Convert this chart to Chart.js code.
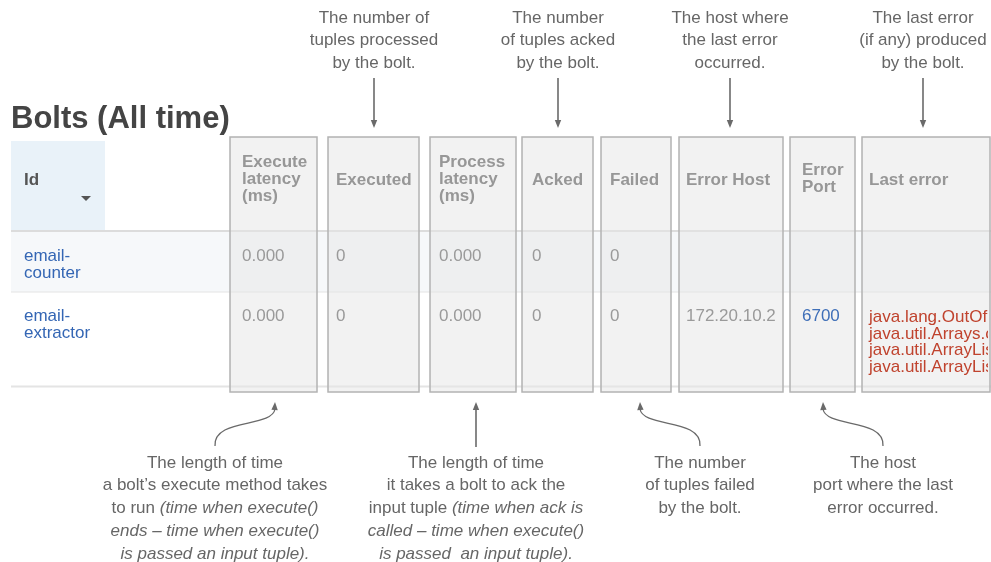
<!DOCTYPE html>
<html>
<head>
<meta charset="utf-8">
<script src="https://cdn.jsdelivr.net/npm/chart.js@4.4.1/dist/chart.umd.min.js"></script>
<style>
  html, body { margin: 0; padding: 0; background: #fff; }
  canvas { display: block; }
</style>
</head>
<body>
<canvas id="chart" width="991" height="562"></canvas>
<script>
// table content
const title = 'Bolts (All time)';
const idHeader = 'Id';
const headers = [['Execute', 'latency', '(ms)'], ['Executed'], ['Process', 'latency', '(ms)'], ['Acked'], ['Failed'], ['Error Host'], ['Error', 'Port'], ['Last error']];
const boltIds = [['email-', 'counter'], ['email-', 'extractor']];
const executeLatency = ['0.000', '0.000'];
const executed = ['0', '0'];
const processLatency = ['0.000', '0.000'];
const acked = ['0', '0'];
const failed = ['0', '0'];
const errorHost = ['', '172.20.10.2'];
const errorPort = ['', '6700'];
const lastError = [[], [
  'java.lang.OutOfMemoryError: Java heap space',
  'java.util.Arrays.copyOf(Arrays.java:2245)',
  'java.util.ArrayList.grow(ArrayList.java:242)',
  'java.util.ArrayList.ensureCapacityInternal(ArrayList.java:216)'
]];

// callouts: [[text, italic], ...] per line
const topNotes = [
  [[['The number of', false]], [['tuples processed', false]], [['by the bolt.', false]]],
  [[['The number', false]], [['of tuples acked', false]], [['by the bolt.', false]]],
  [[['The host where', false]], [['the last error', false]], [['occurred.', false]]],
  [[['The last error', false]], [['(if any) produced', false]], [['by the bolt.', false]]]
];
const bottomNotes = [
  [[['The length of time', false]], [['a bolt\u2019s execute method takes', false]],
   [['to run ', false], ['(time when execute()', true]], [['ends \u2013 time when execute()', true]],
   [['is passed an input tuple).', true]]],
  [[['The length of time', false]], [['it takes a bolt to ack the', false]],
   [['input tuple ', false], ['(time when ack is', true]], [['called \u2013 time when execute()', true]],
   [['is passed  an input tuple).', true]]],
  [[['The number', false]], [['of tuples failed', false]], [['by the bolt.', false]]],
  [[['The host', false]], [['port where the last', false]], [['error occurred.', false]]]
];

const columns = [executeLatency, executed, processLatency, acked, failed, errorHost, errorPort];

// layout
const FONT = '"Liberation Sans", Arial, Helvetica, sans-serif';
const colBox = [[230, 317], [328, 419], [430, 516], [522, 593], [601, 671], [679, 783], [790, 855], [862, 990]];
const colTextX = [242, 336, 439, 532, 610, 686, 802, 869];
const rowTop = [232, 292];
const rowBottom = [292, 386];
const rowBase = [261, 321];
const topNoteX = [374, 558, 730, 923];
const bottomNoteX = [215, 476, 700, 883];
const bottomTipX = [275, 476, 640, 823];

const tablePlugin = {
  id: 'tablePlugin',
  afterDraw(chart) {
    const ctx = chart.ctx;
    const xs = chart.scales.x, ys = chart.scales.y;
    const X = v => xs.getPixelForValue(v);
    const Y = v => ys.getPixelForValue(v);

    function rect(x0, y0, x1, y1, fill) {
      ctx.fillStyle = fill;
      ctx.fillRect(X(x0), Y(y0), X(x1) - X(x0), Y(y1) - Y(y0));
    }
    function hline(y, x0, x1, color, w) {
      ctx.strokeStyle = color; ctx.lineWidth = w;
      ctx.beginPath(); ctx.moveTo(X(x0), Y(y)); ctx.lineTo(X(x1), Y(y)); ctx.stroke();
    }
    function text(s, x, y, font, color) {
      ctx.font = font; ctx.fillStyle = color;
      ctx.textAlign = 'left'; ctx.textBaseline = 'alphabetic';
      ctx.fillText(s, X(x), Y(y));
    }
    function arrowHead(x, y, ang) {
      ctx.save();
      ctx.translate(X(x), Y(y));
      ctx.rotate(ang);
      ctx.fillStyle = '#6a6a6a';
      ctx.beginPath();
      ctx.moveTo(0, 0); ctx.lineTo(-8, -3.2); ctx.lineTo(-8, 3.2); ctx.closePath();
      ctx.fill();
      ctx.restore();
    }
    function noteLine(segs, cx, y) {
      const sizeFont = it => (it ? 'italic ' : '') + '17px ' + FONT;
      let total = 0;
      segs.forEach(s => { ctx.font = sizeFont(s[1]); total += ctx.measureText(s[0]).width; });
      let x = X(cx) - total / 2;
      ctx.fillStyle = '#666';
      ctx.textAlign = 'left'; ctx.textBaseline = 'alphabetic';
      segs.forEach(s => {
        ctx.font = sizeFont(s[1]);
        ctx.fillText(s[0], x, Y(y));
        x += ctx.measureText(s[0]).width;
      });
    }

    ctx.save();
    // title
    text(title, 11, 128, 'bold 31px ' + FONT, '#444');

    // header id cell
    rect(11, 141, 105, 230, '#e9f2f9');
    text(idHeader, 24, 185, 'bold 17px ' + FONT, '#555');
    ctx.fillStyle = '#555';
    ctx.beginPath();
    ctx.moveTo(X(81), Y(196)); ctx.lineTo(X(91), Y(196)); ctx.lineTo(X(86), Y(201)); ctx.closePath();
    ctx.fill();

    // rows
    rect(11, rowTop[0], 991, rowBottom[0], '#f6f8fa');
    hline(231, 11, 991, '#dcdcdc', 2);
    hline(292, 11, 991, '#e4e4e4', 1);
    hline(386.5, 11, 991, '#e4e4e4', 2);

    // column boxes
    colBox.forEach(b => {
      ctx.fillStyle = 'rgba(230,230,230,0.5)';
      ctx.fillRect(X(b[0]), Y(137), X(b[1]) - X(b[0]), Y(392) - Y(137));
      ctx.strokeStyle = '#b3b3b3'; ctx.lineWidth = 1.5;
      ctx.strokeRect(X(b[0]), Y(137), X(b[1]) - X(b[0]), Y(392) - Y(137));
    });

    // header labels
    headers.forEach((h, i) => {
      const base = h.length === 3 ? 167 : h.length === 2 ? 175 : 185;
      h.forEach((l, j) => text(l, colTextX[i], base + j * 17, 'bold 17px ' + FONT, '#979797'));
    });

    // cell values
    boltIds.forEach((id, r) => {
      id.forEach((l, j) => text(l, 24, rowBase[r] + j * 17, '17px ' + FONT, '#3466b4'));
      columns.forEach((col, c) => {
        if (col[r] === '') return;
        const color = c === 6 ? '#3f6fb8' : '#9a9a9a';
        text(col[r], colTextX[c], rowBase[r], '17px ' + FONT, color);
      });
      ctx.save();
      ctx.beginPath();
      ctx.rect(X(colBox[7][0]), Y(137), X(988) - X(colBox[7][0]), Y(392) - Y(137));
      ctx.clip();
      lastError[r].forEach((l, j) => text(l, colTextX[7], rowBase[r] + 1 + j * 16.7, '17px ' + FONT, '#c0432e'));
      ctx.restore();
    });

    // top callouts
    topNotes.forEach((note, i) => {
      note.forEach((segs, j) => noteLine(segs, topNoteX[i], 22.5 + j * 22.8));
      ctx.strokeStyle = '#6a6a6a'; ctx.lineWidth = 1.6;
      ctx.beginPath(); ctx.moveTo(X(topNoteX[i]), Y(78)); ctx.lineTo(X(topNoteX[i]), Y(121)); ctx.stroke();
      arrowHead(topNoteX[i], 128, Math.PI / 2);
    });

    // bottom callouts
    bottomNotes.forEach((note, i) => {
      note.forEach((segs, j) => noteLine(segs, bottomNoteX[i], 467.5 + j * 22.8));
      const sx = bottomNoteX[i], tx = bottomTipX[i];
      ctx.strokeStyle = '#6a6a6a'; ctx.lineWidth = 1.3;
      ctx.beginPath();
      if (sx === tx) {
        ctx.lineWidth = 1.6;
        ctx.moveTo(X(sx), Y(447)); ctx.lineTo(X(tx), Y(409));
        ctx.stroke();
        arrowHead(tx, 402, -Math.PI / 2);
      } else {
        const d = tx > sx ? 1 : -1;
        ctx.moveTo(X(sx), Y(446));
        ctx.bezierCurveTo(X(sx - 2 * d), Y(418), X(tx - 3 * d), Y(428), X(tx), Y(409));
        ctx.stroke();
        arrowHead(tx, 402, -Math.PI / 2 + d * 0.05);
      }
    });
    ctx.restore();
  }
};

new Chart(document.getElementById('chart').getContext('2d'), {
  type: 'scatter',
  data: { datasets: [{ data: [], pointRadius: 0 }] },
  options: {
    responsive: false,
    animation: false,
    devicePixelRatio: 1,
    layout: { padding: 0 },
    plugins: { legend: { display: false }, tooltip: { enabled: false } },
    scales: {
      x: { type: 'linear', min: 0, max: 991, display: false },
      y: { type: 'linear', min: 0, max: 562, reverse: true, display: false }
    }
  },
  plugins: [tablePlugin]
});
</script>
</body>
</html>
